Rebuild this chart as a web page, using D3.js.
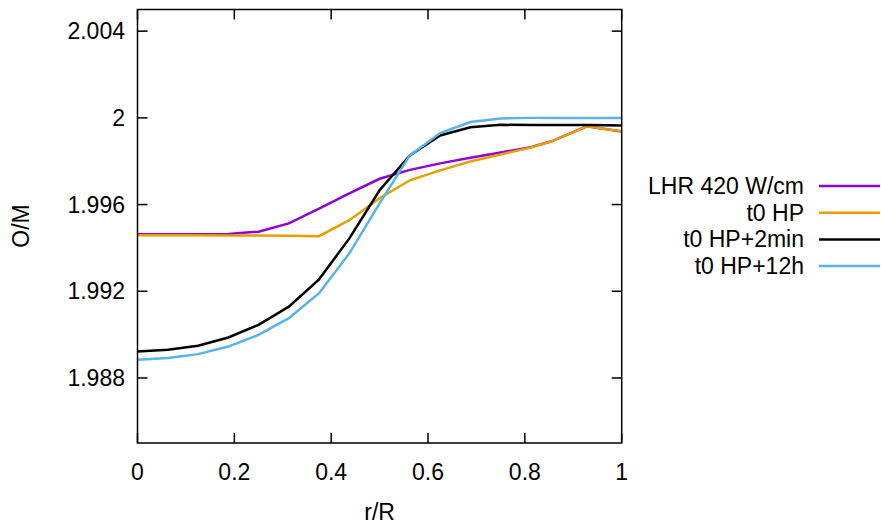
<!DOCTYPE html>
<html><head><meta charset="utf-8">
<script src="https://cdn.jsdelivr.net/npm/d3@7"></script>
<style>body{margin:0;background:#fff}svg{display:block}text{font-family:"Liberation Sans",Arial,sans-serif;fill:#000}</style>
</head><body>
<svg id="c" width="881" height="524"></svg>
<script>
// data
const rGrid = [0,0.0625,0.125,0.1875,0.25,0.3125,0.375,0.4375,0.5,0.5625,0.625,0.6875,0.75,0.8125,0.875,0.9375,1];
const rOuter = [0,0.0625,0.125,0.1875,0.25,0.3125,0.375,0.4375,0.5,0.5625,0.625,0.6875,0.75,0.8125,0.855,0.928,1];
const lhr420 = [1.99463,1.99463,1.99463,1.99464,1.99475,1.99513,1.99581,1.99652,1.99719,1.99760,1.99790,1.99816,1.99840,1.99865,1.99892,1.99961,1.99937];
const t0HP = [1.99459,1.99458,1.99458,1.99457,1.99457,1.99456,1.99454,1.99528,1.99629,1.99712,1.99758,1.99799,1.99831,1.99863,1.99892,1.99961,1.99937];
const t0HP2min = [1.98922,1.98930,1.98949,1.98987,1.99045,1.99129,1.99255,1.99444,1.99666,1.99827,1.99919,1.99957,1.99968,1.99967,1.99967,1.99967,1.99965];
const t0HP12h = [1.98884,1.98892,1.98910,1.98945,1.98999,1.99076,1.99191,1.99375,1.99606,1.99827,1.99930,1.99981,1.99997,2.00000,2.00000,2.00000,2.00000];
const seriesNames = ["LHR 420 W/cm","t0 HP","t0 HP+2min","t0 HP+12h"];
const seriesColors = ["#9400d3","#e69f00","#000000","#56b4e9"];
const xTicks = [0,0.2,0.4,0.6,0.8,1];
const yTicks = [1.988,1.992,1.996,2,2.004];
const xLabel = "r/R", yLabel = "O/M";

const series = [
  {name:seriesNames[0], x:rOuter, y:lhr420, color:seriesColors[0]},
  {name:seriesNames[1], x:rOuter, y:t0HP, color:seriesColors[1]},
  {name:seriesNames[2], x:rGrid, y:t0HP2min, color:seriesColors[2]},
  {name:seriesNames[3], x:rGrid, y:t0HP12h, color:seriesColors[3]}
];

const L=137.5, R=621.7, T=9.5, B=443;
const svg = d3.select("#c");
const x = d3.scaleLinear().domain([0,1]).range([L,R]);
const y = d3.scaleLinear().domain([1.985,2.005]).range([B,T]);
const fs = 23;

// ticks (inward, mirrored)
const g = svg.append("g");
xTicks.forEach(t=>{
  g.append("line").attr("x1",x(t)).attr("x2",x(t)).attr("y1",B).attr("y2",B-10).attr("stroke","#000").attr("stroke-width",1.5);
  g.append("line").attr("x1",x(t)).attr("x2",x(t)).attr("y1",T).attr("y2",T+10).attr("stroke","#000").attr("stroke-width",1.5);
  g.append("text").attr("x",x(t)).attr("y",471.5).attr("dy","0.35em").attr("text-anchor","middle").attr("font-size",fs).text(d3.format("")(t));
});
yTicks.forEach(t=>{
  g.append("line").attr("x1",L).attr("x2",L+10).attr("y1",y(t)).attr("y2",y(t)).attr("stroke","#000").attr("stroke-width",1.5);
  g.append("line").attr("x1",R).attr("x2",R-10).attr("y1",y(t)).attr("y2",y(t)).attr("stroke","#000").attr("stroke-width",1.5);
  g.append("text").attr("x",125).attr("y",y(t)).attr("dy","0.35em").attr("text-anchor","end").attr("font-size",fs).text(d3.format("")(t));
});

// lines
const line = d3.line().x(d=>x(d[0])).y(d=>y(d[1]));
series.forEach(s=>{
  svg.append("path").datum(s.x.map((v,i)=>[v,s.y[i]]))
    .attr("d",line).attr("fill","none").attr("stroke",s.color).attr("stroke-width",2.5).attr("stroke-linejoin","miter");
});

// frame
svg.append("rect").attr("x",L).attr("y",T).attr("width",R-L).attr("height",B-T).attr("fill","none").attr("stroke","#000").attr("stroke-width",1.5);

// axis labels
svg.append("text").attr("x",(L+R)/2).attr("y",512).attr("dy","0.35em").attr("text-anchor","middle").attr("font-size",fs).text(xLabel);
svg.append("text").attr("transform","translate(21,226) rotate(-90)").attr("dy","0.35em").attr("text-anchor","middle").attr("font-size",fs).text(yLabel);

// legend
series.forEach((s,i)=>{
  const ly = 186 + i*26.7;
  svg.append("text").attr("x",804).attr("y",ly).attr("dy","0.35em").attr("text-anchor","end").attr("font-size",fs).text(s.name);
  svg.append("line").attr("x1",819).attr("x2",880).attr("y1",ly).attr("y2",ly).attr("stroke",s.color).attr("stroke-width",2.5);
});
</script>
</body></html>
